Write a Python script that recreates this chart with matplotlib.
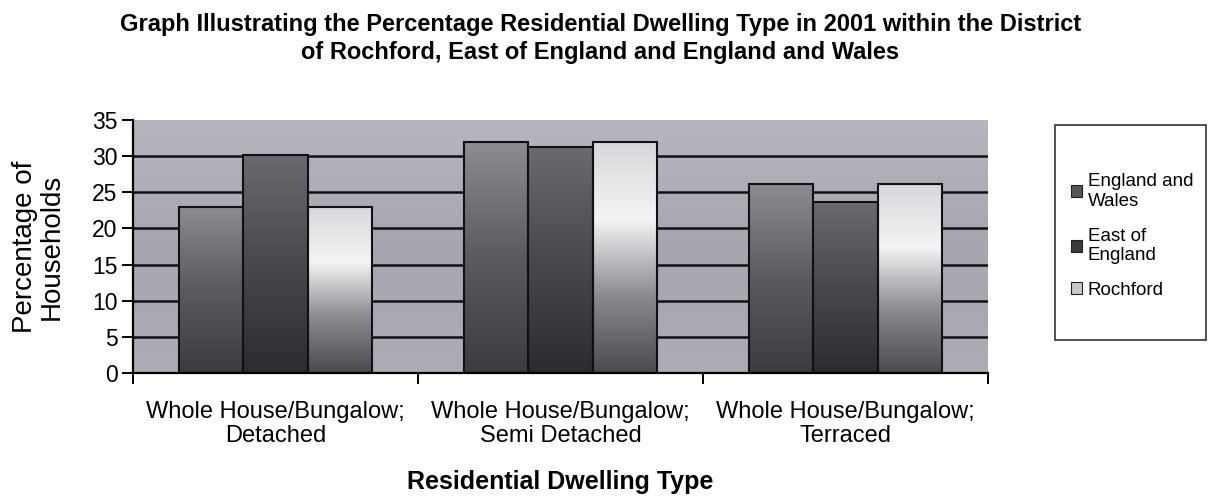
import numpy as np
import matplotlib.pyplot as plt
from matplotlib.colors import LinearSegmentedColormap
from matplotlib.patches import Patch, Rectangle

# %% Data ---------------------------------------------------------------------

categories = ['Whole House/Bungalow;\nDetached',
              'Whole House/Bungalow;\nSemi Detached',
              'Whole House/Bungalow;\nTerraced']
series = ['England and\nWales', 'East of\nEngland', 'Rochford']
england_wales = [23.0, 31.9, 26.1]
east_england = [30.2, 31.3, 23.7]
rochford = [23.0, 31.9, 26.1]
values = [england_wales, east_england, rochford]

# gradient stops (top -> bottom) for each series
grad_colors = [['#8c8c92', '#5a5a60', '#3c3c40'],
               ['#6a6a70', '#48484e', '#2c2c30'],
               ['#d8d8dc', '#f4f4f6', '#8a8a90', '#4a4a50']]
legend_colors = ['#55555a', '#3a3a3e', '#c8c8cc']

plt.rcParams['font.family'] = ['Liberation Sans', 'DejaVu Sans']

# %% Figure -------------------------------------------------------------------

fig = plt.figure(figsize=(12.1, 5), dpi=100)
ax = fig.add_axes([0.1099, 0.254, 0.7066, 0.506])

x = np.arange(len(categories))
width = 0.225
ymax = 35
xlim = (-0.5, len(categories) - 0.5)

# grey plot-area background
bg = np.linspace(0, 1, 256).reshape(-1, 1) * np.ones((1, 4))
bg_cmap = LinearSegmentedColormap.from_list('bg', ['#b6b6be', '#a6a6ae', '#acacb4'])
ax.imshow(bg, cmap=bg_cmap, aspect='auto', origin='upper',
          extent=(*xlim, 0, ymax), zorder=0)

# gridlines
for yv in range(5, ymax, 5):
    ax.axhline(yv, color='#111111', lw=1.8, zorder=1)

# bars with vertical gradient fill
grad = np.linspace(0, 1, 256).reshape(-1, 1)
for i, (vals, cols) in enumerate(zip(values, grad_colors)):
    pos = x + (i - 1) * width
    bars = ax.bar(pos, vals, width, facecolor='none', edgecolor='#111111',
                  linewidth=1.5, zorder=3)
    cmap = LinearSegmentedColormap.from_list(f's{i}', cols)
    for b in bars:
        x0, y0 = b.get_x(), b.get_y()
        im = ax.imshow(grad, cmap=cmap, aspect='auto', origin='upper',
                       extent=(x0, x0 + b.get_width(), y0, y0 + b.get_height()),
                       zorder=2)
        im.set_clip_path(b)

ax.set_xlim(*xlim)
ax.set_ylim(0, ymax)

# axes styling
for side in ['top', 'right']:
    ax.spines[side].set_visible(False)
for side in ['left', 'bottom']:
    ax.spines[side].set_linewidth(1.6)
    ax.spines[side].set_zorder(4)

ax.set_yticks(range(0, ymax + 1, 5))
ax.tick_params(axis='y', direction='out', length=8, width=1.4,
               labelsize=16.5, pad=3)
ax.set_xticks(x)
ax.set_xticklabels(categories, fontsize=17, linespacing=1.15)
ax.tick_params(axis='x', length=0, pad=20)
ax.set_xticks(np.arange(-0.5, len(categories)), minor=True)
ax.tick_params(axis='x', which='minor', direction='out', length=8, width=1.4)

ax.set_ylabel('Percentage of\nHouseholds', fontsize=20, linespacing=1.0,
              labelpad=20)
ax.set_xlabel('Residential Dwelling Type', fontsize=18, fontweight='bold',
              labelpad=16)

fig.suptitle('Graph Illustrating the Percentage Residential Dwelling Type in '
             '2001 within the District\nof Rochford, East of England and '
             'England and Wales', x=0.496, y=0.975, fontsize=17,
             fontweight='bold', linespacing=1.3)

# legend: entries without frame, box drawn separately
handles = [Patch(facecolor=c, edgecolor='#222222', lw=0.8) for c in legend_colors]
fig.legend(handles, series, loc='upper left',
           bbox_to_anchor=(0.874, 0.68), fontsize=13.5,
           handlelength=0.6, handleheight=0.6, handletextpad=0.3,
           labelspacing=0.95, borderpad=0.2, frameon=False)
fig.add_artist(Rectangle((0.8719, 0.32), 0.1248, 0.43, transform=fig.transFigure,
                         fill=False, edgecolor='#333333', lw=1.2))

fig.savefig('out.png', dpi=100)
